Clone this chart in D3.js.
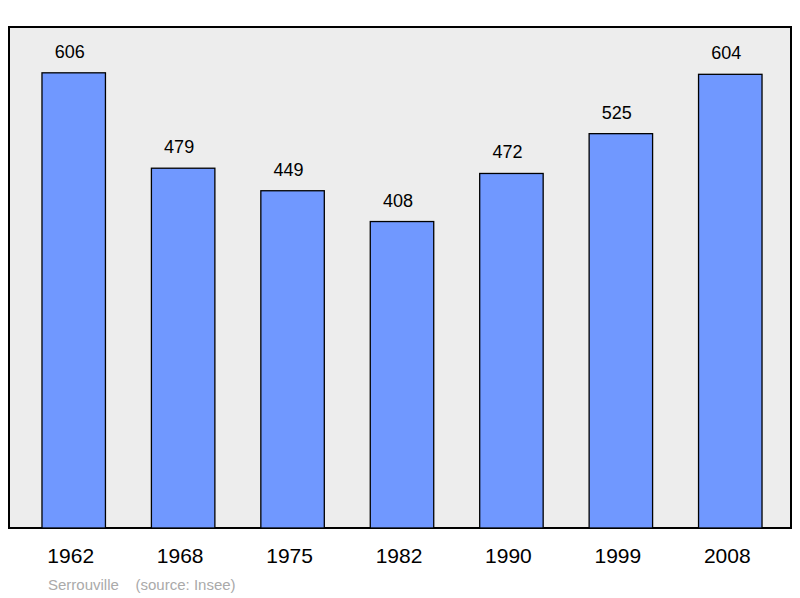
<!DOCTYPE html>
<html><head><meta charset="utf-8">
<script src="https://cdn.jsdelivr.net/npm/d3@7"></script>
<style>body{margin:0;background:#fff}</style>
</head><body>
<svg id="chart" width="800" height="598"></svg>
<script>
var years = ["1962","1968","1975","1982","1990","1999","2008"];
var population = [606,479,449,408,472,525,604];

var svg = d3.select("#chart");
var pLeft = 9, pRight = 791, pTop = 27, pBottom = 528;

svg.append("rect")
  .attr("x", pLeft).attr("y", pTop)
  .attr("width", pRight - pLeft).attr("height", pBottom - pTop)
  .attr("fill", "#ededed").attr("stroke", "#000").attr("stroke-width", 2);

var x = d3.scaleBand().domain(years).range([19, 785]).paddingInner(0.42).paddingOuter(0.21);
var y = d3.scaleLinear().domain([0, 667]).range([pBottom, pTop]);

svg.selectAll(".bar").data(population).enter().append("rect")
  .attr("x", (d, i) => x(years[i]))
  .attr("y", d => y(d))
  .attr("width", x.bandwidth())
  .attr("height", d => pBottom - y(d))
  .attr("fill", "#7098ff").attr("stroke", "#000").attr("stroke-width", 1.3);

svg.selectAll(".val").data(population).enter().append("text")
  .attr("x", (d, i) => x(years[i]) + x.bandwidth() / 2 - 4)
  .attr("y", d => y(d) - 15)
  .attr("text-anchor", "middle")
  .attr("font-family", "Liberation Sans, Arial, sans-serif")
  .attr("font-size", 18)
  .text(d => d);

var xAxis = d3.axisBottom(x).tickSize(0).tickPadding(0);
var g = svg.append("g").attr("transform", "translate(-3," + (pBottom + 35) + ")").call(xAxis);
g.select(".domain").remove();
g.selectAll("text").attr("font-family", "Liberation Sans, Arial, sans-serif").attr("font-size", 21).attr("fill", "#000").attr("dy", 0);

svg.append("text").attr("x", 48).attr("y", 590)
  .attr("font-family", "Liberation Sans, Arial, sans-serif").attr("font-size", 15).attr("fill", "#aaa")
  .attr("xml:space", "preserve")
  .text("Serrouville    (source: Insee)");
</script>
</body></html>
